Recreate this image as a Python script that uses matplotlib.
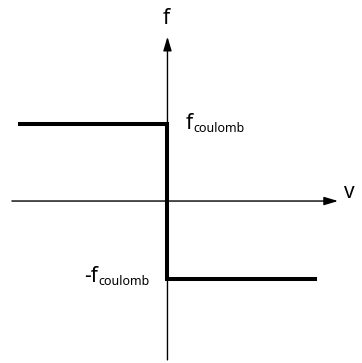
import matplotlib
matplotlib.use("Agg")
import matplotlib.pyplot as plt

# Coulomb friction: constant magnitude, sign opposite to the velocity
F_COULOMB = 1.0
velocity = [-1.0, 0.0, 0.0, 1.0]
friction = [F_COULOMB, F_COULOMB, -F_COULOMB, -F_COULOMB]

plt.rcParams["font.family"] = ["Noto Sans", "DejaVu Sans"]

BIG, SMALL = 15, 9

fig = plt.figure(figsize=(3.62, 3.63), dpi=100)
ax = fig.add_axes([0, 0, 1, 1])
ax.set_xlim(-1.139, 1.323)
ax.set_ylim(-2.090, 2.594)
ax.axis("off")

# axes with arrow heads
arrow = dict(arrowstyle="-|>,head_length=0.6,head_width=0.18",
             color="black", lw=1.0, mutation_scale=14,
             shrinkA=0, shrinkB=0)
ax.annotate("", xy=(1.160, 0), xytext=(-1.058, 0), arrowprops=arrow)
ax.annotate("", xy=(0, 2.12), xytext=(0, -2.05), arrowprops=arrow)
ax.text(1.20, 0.04, "v", fontsize=BIG, ha="left", va="baseline")
ax.text(-0.01, 2.28, "f", fontsize=BIG, ha="center", va="baseline")

ax.plot(velocity, friction, color="black", lw=2.9,
        solid_joinstyle="miter", zorder=3)

# "f" + small "coulomb", chained off each other's bounding boxes
t_main = ax.text(0.126, 0.93 * F_COULOMB, "f", fontsize=BIG,
                 ha="left", va="baseline")
ax.annotate("coulomb", xy=(1, 0), xycoords=t_main, xytext=(0.5, -0.6),
            textcoords="offset points", fontsize=SMALL,
            ha="left", va="bottom")

t_sub = ax.text(-0.119, -1.084 * F_COULOMB, "coulomb", fontsize=SMALL,
                ha="right", va="baseline")
ax.annotate("-f", xy=(0, 0), xycoords=t_sub, xytext=(-0.5, 0.6),
            textcoords="offset points", fontsize=BIG,
            ha="right", va="bottom")

fig.savefig("out.png", dpi=100, facecolor="white")
